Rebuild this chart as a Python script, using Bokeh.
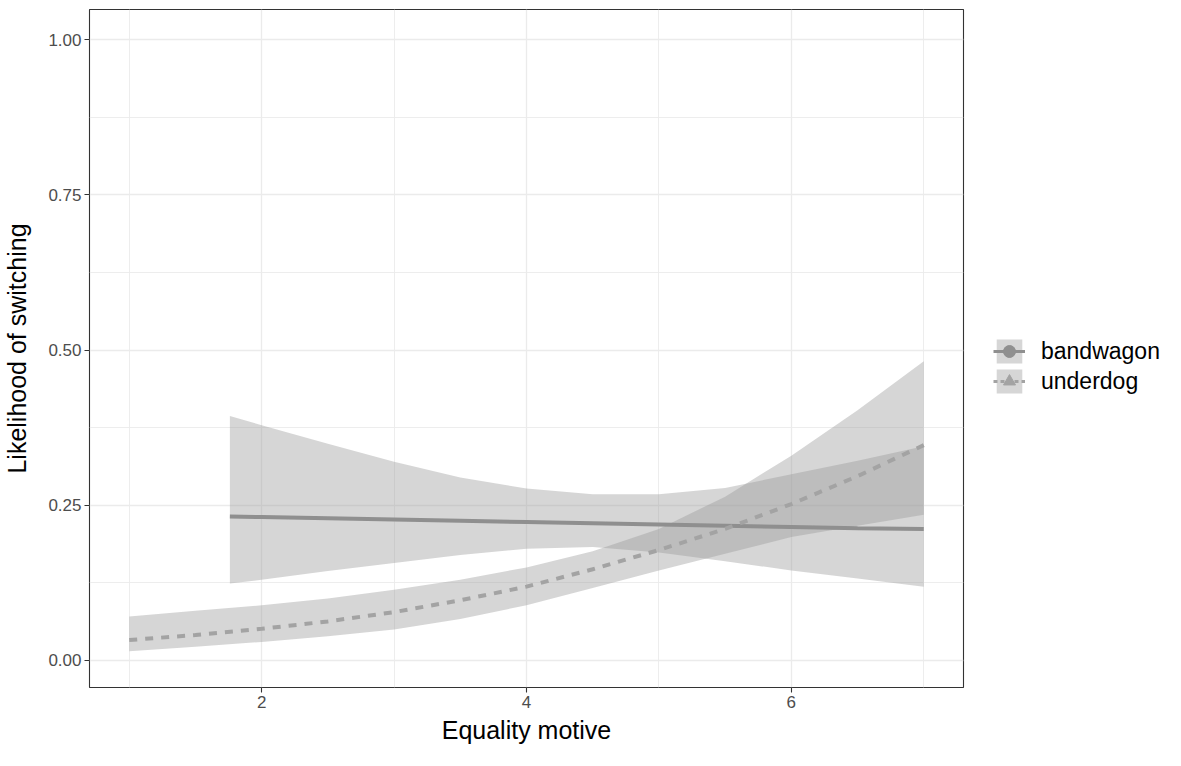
from bokeh.plotting import figure
from bokeh.layouts import row
from bokeh.models import (ColumnDataSource, FixedTicker, NumeralTickFormatter,
                          Legend, LegendItem, Range1d)
from bokeh.embed import file_html
from bokeh.resources import INLINE

# ---- data ----
bw_x     = [1.76, 2.0, 2.5, 3.0, 3.5, 4.0, 4.5, 5.0, 5.5, 6.0, 6.5, 7.0]
bw_fit   = [0.232, 0.231, 0.229, 0.227, 0.225, 0.223, 0.221, 0.219, 0.217, 0.215, 0.213, 0.212]
bw_upper = [0.394, 0.379, 0.349, 0.320, 0.295, 0.277, 0.268, 0.268, 0.278, 0.300, 0.322, 0.345]
bw_lower = [0.124, 0.130, 0.144, 0.157, 0.170, 0.180, 0.183, 0.174, 0.160, 0.145, 0.132, 0.119]

ud_x     = [1.0, 1.5, 2.0, 2.5, 3.0, 3.5, 4.0, 4.5, 5.0, 5.5, 6.0, 6.5, 7.0]
ud_fit   = [0.033, 0.041, 0.051, 0.063, 0.078, 0.097, 0.119, 0.147, 0.178, 0.212, 0.252, 0.297, 0.347]
ud_upper = [0.071, 0.080, 0.089, 0.100, 0.114, 0.130, 0.150, 0.176, 0.212, 0.264, 0.330, 0.403, 0.482]
ud_lower = [0.015, 0.022, 0.030, 0.039, 0.050, 0.067, 0.089, 0.117, 0.145, 0.172, 0.199, 0.217, 0.235]

x_ticks = [2, 4, 6]
x_minor = [1, 3, 5, 7]
y_ticks = [0.0, 0.25, 0.5, 0.75, 1.0]
y_minor = [0.125, 0.375, 0.625, 0.875]
group_labels = ["bandwagon", "underdog"]

FONT = "Liberation Sans"
BAND = dict(fill_color="#999999", fill_alpha=0.4)
BW_COL = "#8f8f8f"
UD_COL = "#a3a3a3"

p = figure(width=965, height=750, output_backend="svg", toolbar_location=None,
           x_range=Range1d(0.7, 7.3), y_range=Range1d(-0.0435, 1.0488),
           min_border_left=89, min_border_right=2, min_border_top=9,
           min_border_bottom=63)

p.background_fill_color = "white"
p.border_fill_color = "white"
p.outline_line_color = "#333333"
p.outline_line_width = 1.1

for g, ticks, minor in ((p.xgrid, x_ticks, x_minor), (p.ygrid, y_ticks, y_minor)):
    g.ticker = FixedTicker(ticks=ticks, minor_ticks=minor)
    g.grid_line_color = "#ebebeb"
    g.grid_line_width = 1.3
    g.minor_grid_line_color = "#ebebeb"
    g.minor_grid_line_width = 0.9

p.xaxis.ticker = FixedTicker(ticks=x_ticks, minor_ticks=x_minor)
p.yaxis.ticker = FixedTicker(ticks=y_ticks, minor_ticks=y_minor)
p.yaxis.formatter = NumeralTickFormatter(format="0.00")

for ax in (p.xaxis, p.yaxis):
    ax.axis_line_color = None
    ax.major_tick_line_color = "#333333"
    ax.major_tick_line_width = 1.1
    ax.major_tick_out = 5
    ax.major_tick_in = 0
    ax.minor_tick_line_color = None
    ax.major_label_text_font = FONT
    ax.major_label_text_font_size = "17px"
    ax.major_label_text_color = "#4d4d4d"
    ax.major_label_standoff = 3
    ax.axis_label_text_font = FONT
    ax.axis_label_text_font_size = "25px"
    ax.axis_label_text_font_style = "normal"
    ax.axis_label_text_color = "black"

p.xaxis.axis_label = "Equality motive"
p.yaxis.axis_label = "Likelihood of switching"
p.xaxis.axis_label_standoff = 5
p.yaxis.axis_label_standoff = 14

bw_src = ColumnDataSource(dict(x=bw_x, y=bw_fit, lo=bw_lower, hi=bw_upper))
ud_src = ColumnDataSource(dict(x=ud_x, y=ud_fit, lo=ud_lower, hi=ud_upper))

p.varea(x="x", y1="lo", y2="hi", source=bw_src, **BAND)
p.varea(x="x", y1="lo", y2="hi", source=ud_src, **BAND)
p.line(x="x", y="y", source=bw_src, line_color=BW_COL, line_width=4)
p.line(x="x", y="y", source=ud_src, line_color=UD_COL, line_width=4, line_dash="8 8")

# ---- legend panel: hidden key renderers, only their legend glyphs show ----
q = figure(width=200, height=750, output_backend="svg", toolbar_location=None,
           x_axis_type=None, y_axis_type=None,
           min_border_left=0, min_border_right=0, min_border_top=9,
           min_border_bottom=63)
q.outline_line_color = None
q.xgrid.visible = False
q.ygrid.visible = False
q.background_fill_color = "white"
q.border_fill_color = "white"

k_bw_band = q.varea(x="x", y1="lo", y2="hi", source=bw_src, visible=False, **BAND)
k_bw_line = q.line(x="x", y="y", source=bw_src, line_color=BW_COL, line_width=3,
                   visible=False)
k_bw_pt = q.scatter(x="x", y="y", source=bw_src, marker="circle", size=6,
                    fill_color=BW_COL, line_color=BW_COL, visible=False)
k_ud_band = q.varea(x="x", y1="lo", y2="hi", source=ud_src, visible=False, **BAND)
k_ud_line = q.line(x="x", y="y", source=ud_src, line_color=UD_COL, line_width=3,
                   line_dash="4 3", visible=False)
k_ud_pt = q.scatter(x="x", y="y", source=ud_src, marker="triangle", size=7,
                    fill_color=UD_COL, line_color=UD_COL, visible=False)

legend = Legend(items=[
    LegendItem(label=group_labels[0], renderers=[k_bw_band, k_bw_line, k_bw_pt]),
    LegendItem(label=group_labels[1], renderers=[k_ud_band, k_ud_line, k_ud_pt]),
], location=(28, 291))
legend.glyph_width = 32
legend.glyph_height = 30
legend.spacing = 0
legend.padding = 0
legend.margin = 0
legend.label_standoff = 16
legend.label_height = 30
legend.label_text_font = FONT
legend.label_text_font_size = "23px"
legend.label_text_color = "black"
legend.border_line_color = None
legend.background_fill_alpha = 0
legend.inactive_fill_alpha = 0
q.add_layout(legend, "center")

layout = row(p, q, spacing=0)
open("out.html", "w").write(file_html(layout, INLINE))
